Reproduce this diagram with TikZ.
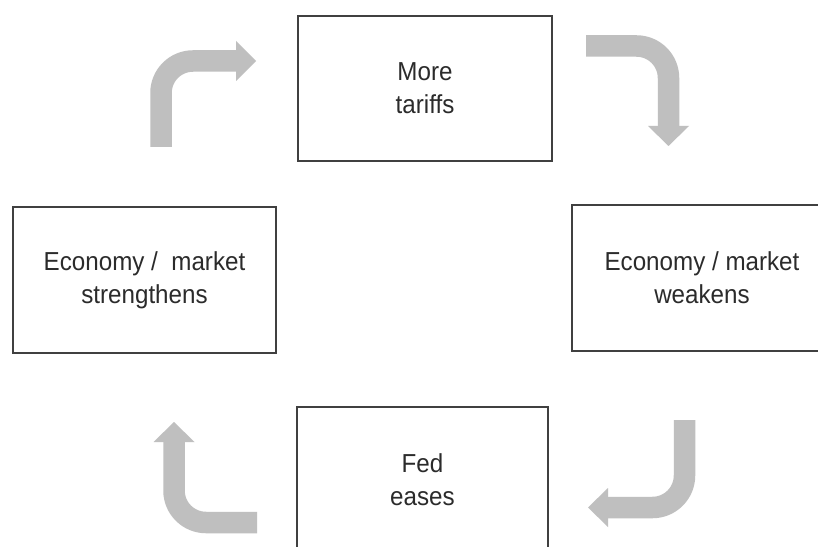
\documentclass[tikz,border=0pt]{standalone}
\usepackage{fontspec}
\setmainfont{Liberation Sans}[FakeStretch=0.93]
\definecolor{arrowgray}{HTML}{BFBFBF}
\definecolor{boxline}{HTML}{404040}
\definecolor{textcol}{HTML}{2B2B2B}
\begin{document}
\begin{tikzpicture}[x=1bp,y=-1bp,
  stagebox/.style={draw=boxline,line width=1.4bp,fill=white,inner sep=0pt,
    text=textcol,align=center,font=\fontsize{26bp}{33bp}\selectfont},
  bentstem/.style={draw=arrowgray,line width=21.5bp,rounded corners=32bp,line cap=butt},
  headfill/.style={fill=arrowgray,draw=none}]
\useasboundingbox (0,0) rectangle (818,547);
\clip (0,0) rectangle (818,547);
\fill[white] (0,0) rectangle (818,547);
% boxes
\node[stagebox,minimum width=254bp,minimum height=145bp] (tariffs) at (425,88.5) {More\\tariffs};
\node[stagebox,minimum width=263bp,minimum height=146bp] (strong) at (144.5,280) {Economy /\ \ market\\strengthens};
\node[stagebox,minimum width=260bp,minimum height=146bp] (weak) at (702,278) {Economy / market\\weakens};
\node[stagebox,minimum width=251bp,minimum height=146bp] (fed) at (422.5,480) {Fed\\eases};
% arrow coordinates
\coordinate (tlA) at (161,147); \coordinate (tlC) at (161,61); \coordinate (tlB) at (236,61);
\coordinate (trA) at (586,46); \coordinate (trC) at (668.5,46); \coordinate (trB) at (668.5,126);
\coordinate (brA) at (684.5,420); \coordinate (brC) at (684.5,507.5); \coordinate (brB) at (608,507.5);
\coordinate (blA) at (257,522.5); \coordinate (blC) at (174,522.5); \coordinate (blB) at (174,442);
% top-left arrow (points right)
\draw[bentstem] (tlA) -- (tlC) -- ([xshift=0.5bp]tlB);
\fill[headfill] ([yshift=20bp]tlB) -- ([xshift=20bp]tlB) -- ([yshift=-20bp]tlB) -- cycle;
% top-right arrow (points down)
\draw[bentstem] (trA) -- (trC) -- ([yshift=-0.5bp]trB);
\fill[headfill] ([xshift=-20.5bp]trB) -- ([yshift=-20bp]trB) -- ([xshift=20.5bp]trB) -- cycle;
% bottom-right arrow (points left)
\draw[bentstem] (brA) -- (brC) -- ([xshift=-0.5bp]brB);
\fill[headfill] ([yshift=19.5bp]brB) -- ([xshift=-20bp]brB) -- ([yshift=-19.5bp]brB) -- cycle;
% bottom-left arrow (points up)
\draw[bentstem] (blA) -- (blC) -- ([yshift=0.5bp]blB);
\fill[headfill] ([xshift=-20.5bp]blB) -- ([yshift=20bp]blB) -- ([xshift=20.5bp]blB) -- cycle;
\end{tikzpicture}
\end{document}
